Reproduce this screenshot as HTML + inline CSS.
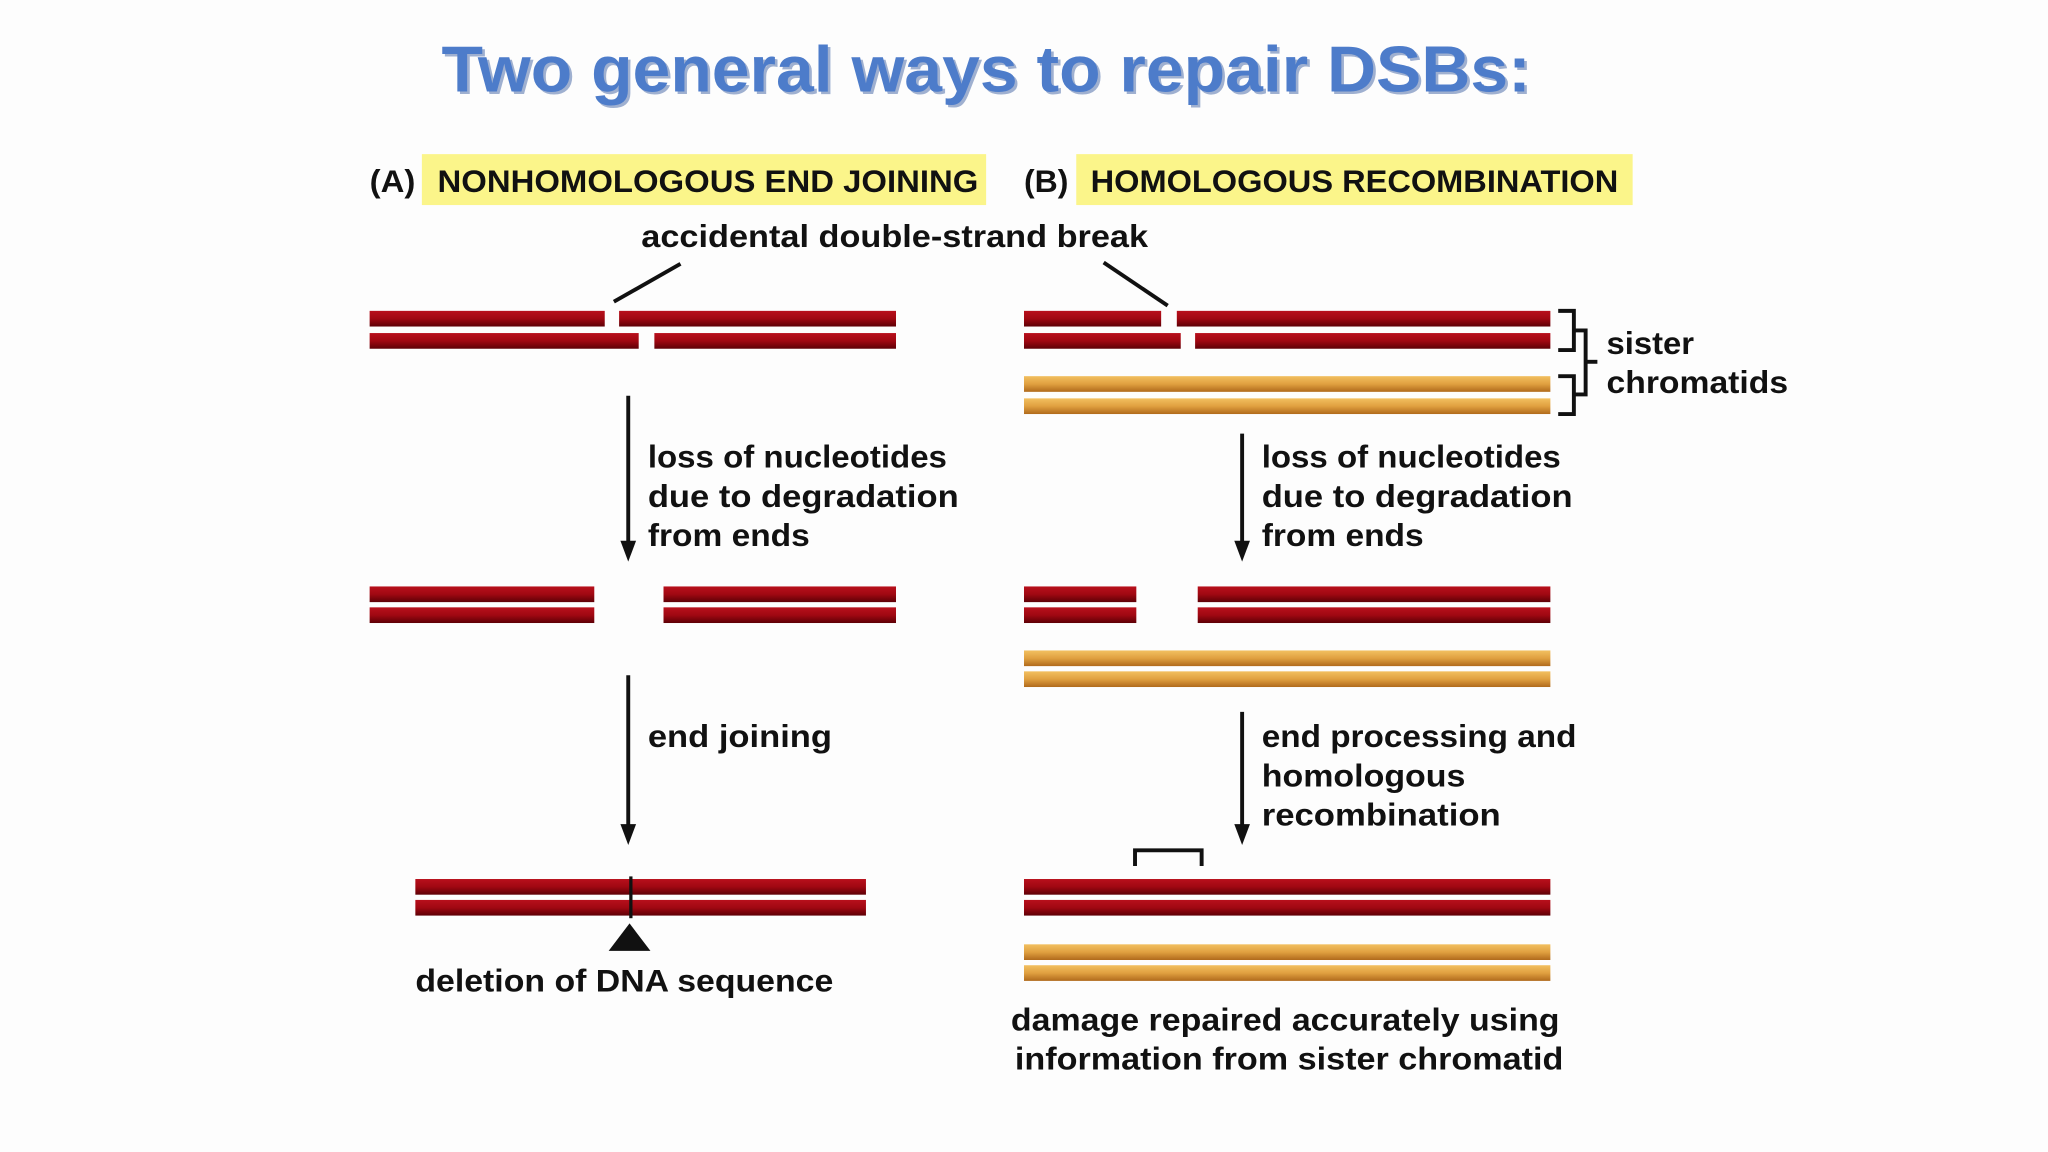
<!DOCTYPE html>
<html><head><meta charset="utf-8"><style>
html,body{margin:0;padding:0;background:#fdfdfd;}
svg{display:block}
text{font-family:"Liberation Sans",sans-serif;font-weight:bold;fill:#111}
</style></head><body>
<svg width="2048" height="1152" viewBox="0 0 1568 882" xmlns="http://www.w3.org/2000/svg">
<defs>
<linearGradient id="r" x1="0" y1="0" x2="0" y2="1"><stop offset="0" stop-color="#b8101c"/><stop offset="0.5" stop-color="#a00812"/><stop offset="1" stop-color="#5e0006"/></linearGradient>
<linearGradient id="o" x1="0" y1="0" x2="0" y2="1"><stop offset="0" stop-color="#f2c060"/><stop offset="0.5" stop-color="#e0a040"/><stop offset="1" stop-color="#b06a1c"/></linearGradient>
</defs>
<rect width="1568" height="882" fill="#fdfdfd"/>
<text x="340" y="72" font-size="50" style="fill:#9fb0d0" textLength="834" lengthAdjust="spacingAndGlyphs">Two general ways to repair DSBs:</text>
<text x="338" y="70" font-size="50" style="fill:#4d7cca" textLength="834" lengthAdjust="spacingAndGlyphs">Two general ways to repair DSBs:</text>
<rect x="323" y="118" width="432" height="39" fill="#fbf58a"/>
<rect x="824" y="118" width="426" height="39" fill="#fbf58a"/>
<text x="283" y="147" font-size="24" textLength="35" lengthAdjust="spacingAndGlyphs">(A)</text>
<text x="335" y="147" font-size="24" textLength="414" lengthAdjust="spacingAndGlyphs">NONHOMOLOGOUS END JOINING</text>
<text x="784" y="147" font-size="24" textLength="34" lengthAdjust="spacingAndGlyphs">(B)</text>
<text x="835" y="147" font-size="24" textLength="404" lengthAdjust="spacingAndGlyphs">HOMOLOGOUS RECOMBINATION</text>
<text x="491" y="189" font-size="24" textLength="388" lengthAdjust="spacingAndGlyphs">accidental double-strand break</text>
<g stroke="#111" stroke-width="3"><line x1="470" y1="231" x2="521" y2="202"/><line x1="845" y1="201" x2="894" y2="234"/></g>
<g fill="url(#r)">
<rect x="283" y="238" width="180" height="12"/><rect x="474" y="238" width="212" height="12"/>
<rect x="283" y="255" width="206" height="12"/><rect x="501" y="255" width="185" height="12"/>
<rect x="784" y="238" width="105" height="12"/><rect x="901" y="238" width="286" height="12"/>
<rect x="784" y="255" width="120" height="12"/><rect x="915" y="255" width="272" height="12"/>
<rect x="283" y="449" width="172" height="12"/><rect x="508" y="449" width="178" height="12"/>
<rect x="283" y="465" width="172" height="12"/><rect x="508" y="465" width="178" height="12"/>
<rect x="784" y="449" width="86" height="12"/><rect x="917" y="449" width="270" height="12"/>
<rect x="784" y="465" width="86" height="12"/><rect x="917" y="465" width="270" height="12"/>
<rect x="318" y="673" width="345" height="12"/><rect x="318" y="689" width="345" height="12"/>
<rect x="784" y="673" width="403" height="12"/><rect x="784" y="689" width="403" height="12"/>
</g>
<g fill="url(#o)">
<rect x="784" y="288" width="403" height="12"/><rect x="784" y="305" width="403" height="12"/>
<rect x="784" y="498" width="403" height="12"/><rect x="784" y="514" width="403" height="12"/>
<rect x="784" y="723" width="403" height="12"/><rect x="784" y="739" width="403" height="12"/>
</g>
<g stroke="#111" stroke-width="3" fill="none">
<path d="M1193,238 H1205 V268 H1193"/><path d="M1193,288 H1205 V317 H1193"/>
<path d="M1205,253 H1214 V302 H1205"/><line x1="1214" y1="277" x2="1223" y2="277"/>
<path d="M869,663 V651 H920 V663"/>
<line x1="481" y1="303" x2="481" y2="418"/>
<line x1="481" y1="517" x2="481" y2="635"/>
<line x1="951" y1="332" x2="951" y2="418"/>
<line x1="951" y1="545" x2="951" y2="635"/>
<line x1="483" y1="671" x2="483" y2="703" stroke-width="2.5"/>
</g>
<g fill="#111">
<path d="M475,414 L487,414 L481,430 z"/>
<path d="M475,631 L487,631 L481,647 z"/>
<path d="M945,414 L957,414 L951,430 z"/>
<path d="M945,631 L957,631 L951,647 z"/>
<path d="M466,728 L482,707 L498,728 z"/>
</g>
<text x="1230" y="271" font-size="24" textLength="67" lengthAdjust="spacingAndGlyphs">sister</text>
<text x="1230" y="301" font-size="24" textLength="139" lengthAdjust="spacingAndGlyphs">chromatids</text>
<text x="496" y="358" font-size="24" textLength="229" lengthAdjust="spacingAndGlyphs">loss of nucleotides</text>
<text x="496" y="388" font-size="24" textLength="238" lengthAdjust="spacingAndGlyphs">due to degradation</text>
<text x="496" y="418" font-size="24" textLength="124" lengthAdjust="spacingAndGlyphs">from ends</text>
<text x="966" y="358" font-size="24" textLength="229" lengthAdjust="spacingAndGlyphs">loss of nucleotides</text>
<text x="966" y="388" font-size="24" textLength="238" lengthAdjust="spacingAndGlyphs">due to degradation</text>
<text x="966" y="418" font-size="24" textLength="124" lengthAdjust="spacingAndGlyphs">from ends</text>
<text x="496" y="572" font-size="24" textLength="141" lengthAdjust="spacingAndGlyphs">end joining</text>
<text x="966" y="572" font-size="24" textLength="241" lengthAdjust="spacingAndGlyphs">end processing and</text>
<text x="966" y="602" font-size="24" textLength="156" lengthAdjust="spacingAndGlyphs">homologous</text>
<text x="966" y="632" font-size="24" textLength="183" lengthAdjust="spacingAndGlyphs">recombination</text>
<text x="318" y="759" font-size="24" textLength="320" lengthAdjust="spacingAndGlyphs">deletion of DNA sequence</text>
<text x="774" y="789" font-size="24" textLength="420" lengthAdjust="spacingAndGlyphs">damage repaired accurately using</text>
<text x="777" y="819" font-size="24" textLength="420" lengthAdjust="spacingAndGlyphs">information from sister chromatid</text>
</svg>
</body></html>
